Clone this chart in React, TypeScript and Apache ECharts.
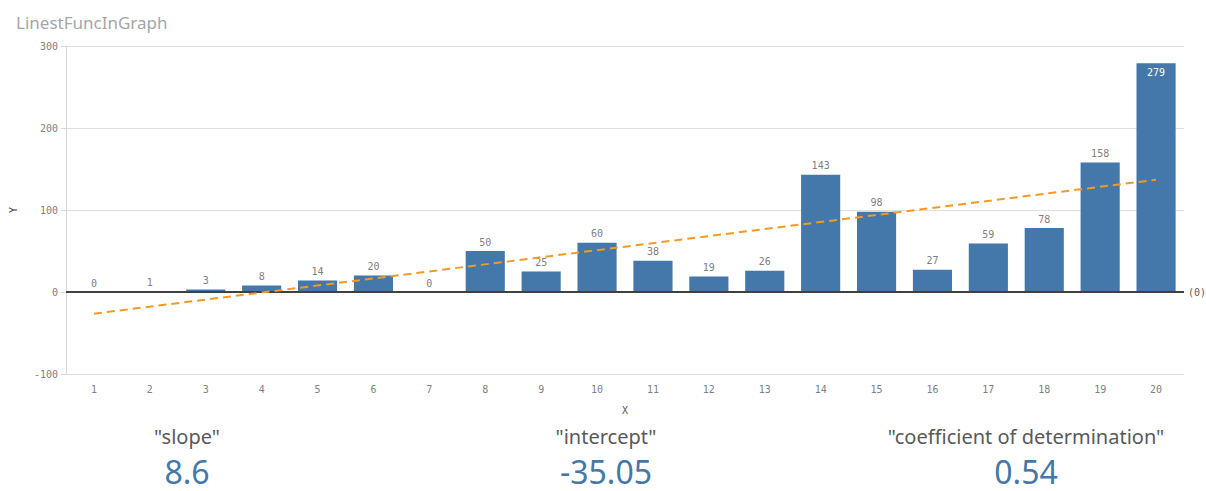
import React, { useEffect, useRef } from "react";
import * as echarts from "echarts";

const categories = ["1","2","3","4","5","6","7","8","9","10","11","12","13","14","15","16","17","18","19","20"];
const values = [0, 1, 3, 8, 14, 20, 0, 50, 25, 60, 38, 19, 26, 143, 98, 27, 59, 78, 158, 279];
const trendStart = -26.45; // at x = 1
const trendEnd = 136.95; // at x = 20
const yTicks = { min: -100, max: 300, interval: 100 };
const kpiLabels = ['"slope"', '"intercept"', '"coefficient of determination"'];
const kpiValues = ["8.6", "-35.05", "0.54"];
const kpiCenters = [187, 606, 1026];

const MONO = "'DejaVu Sans Mono', monospace";
const SANS = "'Noto Sans', 'Open Sans', sans-serif";
const BAR = "#4477aa";

export default function App() {
  const ref = useRef<HTMLDivElement>(null);
  useEffect(() => {
    if (!ref.current) return;
    const chart = echarts.init(ref.current, undefined, { renderer: "svg" });
    const maxIdx = values.indexOf(Math.max(...values));
    const barData = values.map((v, i) =>
      i === maxIdx
        ? { value: v, label: { position: "insideTop", color: "#ffffff" } }
        : v
    );
    const graphics: any[] = [];
    kpiLabels.forEach((t, i) => {
      graphics.push({
        type: "text",
        x: kpiCenters[i],
        y: 436,
        style: {
          text: t,
          fontFamily: SANS,
          fontSize: 20,
          lineHeight: 22,
          fill: "#595959",
          textAlign: "center",
          textVerticalAlign: "middle",
        },
      });
      graphics.push({
        type: "text",
        x: kpiCenters[i],
        y: 471,
        style: {
          text: kpiValues[i],
          fontFamily: SANS,
          fontSize: 32,
          lineHeight: 34,
          fill: BAR,
          textAlign: "center",
          textVerticalAlign: "middle",
        },
      });
    });
    chart.setOption({
      animation: false,
      title: {
        text: "LinestFuncInGraph",
        left: 11,
        top: 9,
        textStyle: { fontFamily: SANS, fontSize: 17, fontWeight: "normal", color: "#a6a6a6" },
      },
      grid: { left: 64, right: 22, top: 46, bottom: 117 },
      xAxis: {
        type: "category",
        data: categories,
        name: "X",
        nameLocation: "middle",
        nameGap: 31,
        nameTextStyle: { fontFamily: MONO, fontSize: 10, color: "#595959" },
        axisLine: { show: false },
        axisTick: { show: false },
        axisLabel: { fontFamily: MONO, fontSize: 10, color: "#808080", margin: 10 },
      },
      yAxis: {
        type: "value",
        min: yTicks.min,
        max: yTicks.max,
        interval: yTicks.interval,
        name: "Y",
        nameLocation: "middle",
        nameGap: 48,
        nameRotate: 90,
        nameTextStyle: { fontFamily: MONO, fontSize: 10, color: "#333344" },
        axisLine: { show: true, lineStyle: { color: "#d9d9d9", width: 1 } },
        axisTick: { show: true, length: 5, lineStyle: { color: "#d9d9d9" } },
        axisLabel: { fontFamily: MONO, fontSize: 10, color: "#808080", margin: 8 },
        splitLine: { lineStyle: { color: "#dedede", width: 1 } },
      },
      series: [
        {
          type: "bar",
          data: barData,
          barCategoryGap: "30%",
          itemStyle: { color: BAR },
          label: {
            show: true,
            position: "top",
            distance: 4,
            fontFamily: MONO,
            fontSize: 10,
            color: "#808080",
          },
          markLine: {
            silent: true,
            symbol: "none",
            data: [
              {
                yAxis: 0,
                lineStyle: { color: "#404040", width: 2, type: "solid" },
                label: {
                  show: true,
                  position: "end",
                  formatter: "(0)",
                  fontFamily: MONO,
                  fontSize: 10,
                  color: "#595959",
                  distance: 4,
                },
              },
              [
                {
                  coord: [categories[0], trendStart],
                  lineStyle: { color: "#f39a22", width: 2, type: [8, 5] },
                  label: { show: false },
                },
                { coord: [categories[categories.length - 1], trendEnd] },
              ],
            ],
          },
        },
      ],
      graphic: graphics,
    });
    return () => chart.dispose();
  }, []);
  return <div ref={ref} style={{ width: 1206, height: 491, position: "absolute", left: 0, top: 0 }} />;
}
